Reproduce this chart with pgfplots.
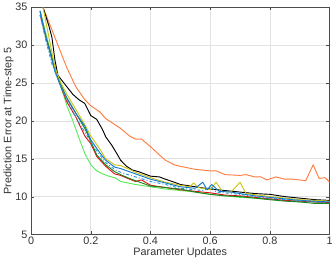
\documentclass[border=0pt]{standalone}
\usepackage{fontspec}
\setmainfont{Liberation Sans}
\usepackage{pgfplots}
\pgfplotsset{compat=1.18}
\definecolor{cOrange}{RGB}{255,125,64}
\definecolor{cRed}{RGB}{220,20,20}
\definecolor{cDGreen}{RGB}{30,130,30}
\definecolor{cLGreen}{RGB}{90,235,90}
\definecolor{cYellow}{RGB}{205,195,20}
\definecolor{cBlue}{RGB}{20,120,200}
\definecolor{cBlue2}{RGB}{40,150,220}
\begin{document}
\begin{tikzpicture}
\begin{axis}[
  scale only axis, width=289bp, height=220bp,
  xmin=0, xmax=1, ymin=5, ymax=35,
  xtick={0,0.2,0.4,0.6,0.8,1}, xticklabels={0,0.2,0.4,0.6,0.8,1},
  ytick={5,10,15,20,25,30,35},
  grid=major, major grid style={gray!22, line width=0.6pt},
  tick align=inside, major tick length=3pt,
  axis line style={black!70, line width=0.6pt},
  tick style={black!70},
  ticklabel style={font=\fontsize{10.5}{12}\selectfont, text=black!80},
  xticklabel style={yshift=1pt},
  /pgf/number format/assume math mode=true,
  xlabel={Parameter Updates}, ylabel={Prediction Error at Time-step 5},
  label style={font=\fontsize{10.5}{12}\selectfont, text=black!80},
  xlabel style={yshift=4pt}, ylabel style={yshift=-5pt},
  every axis plot/.append style={line width=0.9pt, line join=round},
]
\addplot[cOrange] coordinates {(0.04,35) (0.06,33) (0.08,31) (0.1,29) (0.12,27) (0.15,24.5) (0.18,22.8) (0.2,22) (0.23,21.2) (0.25,20.3) (0.3,19) (0.33,18) (0.35,17.6) (0.37,17.6) (0.4,16.6) (0.43,15.5) (0.45,14.8) (0.48,14.2) (0.5,14) (0.55,13.6) (0.6,13.4) (0.62,13.4) (0.65,12.9) (0.7,12.8) (0.72,12.9) (0.75,12.6) (0.77,12.6) (0.79,12.2) (0.82,12.6) (0.85,12.3) (0.88,12.3) (0.92,12.1) (0.945,14.2) (0.965,12.4) (0.985,12.5) (1.0,11.9)};
\addplot[black] coordinates {(0.04,35) (0.06,32.5) (0.07,31) (0.08,28) (0.09,26) (0.1,25.5) (0.12,24.5) (0.14,23.5) (0.16,22.8) (0.18,22.3) (0.2,20.7) (0.22,20.2) (0.24,18.8) (0.25,17.9) (0.27,16.8) (0.29,15.5) (0.3,14.8) (0.32,14) (0.34,13.5) (0.36,13.3) (0.4,12.7) (0.43,12.6) (0.45,12.3) (0.48,11.9) (0.5,11.6) (0.55,11.3) (0.6,11.0) (0.65,10.8) (0.7,10.6) (0.75,10.4) (0.8,10.3) (0.85,10.0) (0.9,9.8) (0.95,9.6) (1.0,9.5)};
\addplot[cLGreen] coordinates {(0.03,34.5) (0.06,30) (0.08,27) (0.1,24.5) (0.12,22) (0.14,20) (0.16,17.8) (0.18,15.7) (0.2,14.2) (0.22,13.4) (0.24,13) (0.26,12.7) (0.28,12.5) (0.3,12) (0.35,11.6) (0.4,11.3) (0.45,11.0) (0.5,10.8) (0.55,10.6) (0.6,10.3) (0.65,10.1) (0.7,9.9) (0.75,9.8) (0.8,9.6) (0.85,9.5) (0.9,9.3) (0.95,9.3) (1.0,9.2)};
\addplot[cRed] coordinates {(0.03,34) (0.05,31) (0.08,27) (0.1,24.5) (0.12,22.5) (0.15,20.5) (0.18,18) (0.2,17) (0.22,15.3) (0.25,14) (0.28,13) (0.3,12.8) (0.33,12.3) (0.35,12) (0.37,12.2) (0.4,11.5) (0.45,11.2) (0.5,10.9) (0.55,10.7) (0.6,10.5) (0.65,10.2) (0.7,10.1) (0.75,9.9) (0.8,9.7) (0.85,9.5) (0.9,9.4) (0.95,9.3) (1.0,9.2)};
\addplot[cDGreen] coordinates {(0.03,34.5) (0.05,31) (0.08,27) (0.1,24.8) (0.12,23) (0.15,21) (0.18,19) (0.2,17.3) (0.22,15.5) (0.25,14.2) (0.28,13.3) (0.3,12.9) (0.33,12.4) (0.35,12.1) (0.4,11.4) (0.45,11.2) (0.5,11.0) (0.55,10.6) (0.6,10.3) (0.65,10.1) (0.7,10.0) (0.75,9.8) (0.8,9.6) (0.85,9.4) (0.9,9.3) (0.95,9.1) (1.0,9.1)};
\addplot[cYellow] coordinates {(0.04,35) (0.06,31) (0.08,27) (0.1,25) (0.12,23.5) (0.15,21.5) (0.18,19.5) (0.2,18) (0.23,16.3) (0.25,15) (0.28,14.2) (0.3,14.1) (0.33,13.6) (0.35,13.2) (0.4,12.5) (0.45,11.9) (0.5,11.5) (0.53,11.3) (0.545,11.8) (0.56,11.2) (0.6,10.9) (0.62,11.9) (0.64,10.7) (0.67,10.6) (0.7,11.9) (0.72,10.4) (0.76,10.2) (0.8,10.0) (0.85,9.8) (0.9,9.6) (0.95,9.5) (1.0,9.4)};
\addplot[cBlue] coordinates {(0.03,34.5) (0.05,31) (0.08,26.5) (0.1,24.5) (0.12,23) (0.15,21) (0.18,19.3) (0.2,17.5) (0.23,15.8) (0.25,14.8) (0.28,13.9) (0.3,13.7) (0.35,13) (0.4,12.3) (0.45,11.8) (0.5,11.3) (0.55,11.1) (0.575,11.9) (0.59,10.9) (0.605,11.6) (0.63,10.7) (0.67,10.6) (0.7,10.4) (0.75,10.1) (0.8,9.9) (0.85,9.7) (0.9,9.5) (0.95,9.4) (1.0,9.3)};
\addplot[cBlue2, dash dot] coordinates {(0.03,34) (0.05,30.5) (0.07,27.5) (0.1,24.5) (0.12,22.8) (0.15,20.5) (0.18,18.5) (0.2,17.2) (0.23,15.5) (0.25,14.5) (0.28,13.6) (0.3,13.2) (0.35,12.6) (0.4,12) (0.45,11.6) (0.5,11.1) (0.55,10.9) (0.58,10.8) (0.6,11.4) (0.62,10.6) (0.7,10.3) (0.75,10.0) (0.8,9.8) (0.85,9.6) (0.9,9.5) (0.95,9.3) (0.965,9.2) (1.0,9.3)};
\end{axis}
\end{tikzpicture}
\end{document}
